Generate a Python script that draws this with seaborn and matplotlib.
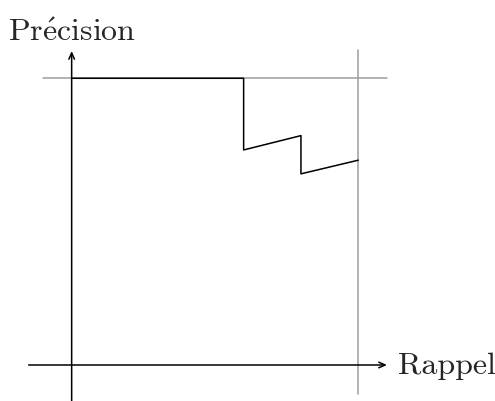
import numpy as np
import pandas as pd
import matplotlib
matplotlib.use("Agg")
import matplotlib.pyplot as plt
import seaborn as sns

# courbe precision / rappel
rappel = [0.0, 0.6, 0.6, 0.8, 0.8, 1.0]
precision = [1.0, 1.0, 0.75, 0.8, 2 / 3, 5 / 7]
label_x = "Rappel"
label_y = r"$\mathrm{Pr\acute{e}cision}$"

sns.set_style("white")
plt.rcParams["mathtext.fontset"] = "cm"

fig = plt.figure(figsize=(4.95, 4.01), dpi=100)
ax = fig.add_axes([0, 0, 1, 1])
ax.set_xlim(-0.250, 1.477)
ax.set_ylim(-0.1256, 1.273)
ax.axis("off")

# lignes grises a precision = 1 et rappel = 1
ax.plot([-0.1, 1.1], [1, 1], color="0.62", lw=1.1, zorder=1)
ax.plot([1, 1], [-0.1, 1.1], color="0.62", lw=1.1, zorder=1)

# axes avec fleches
arrow = dict(arrowstyle="->,head_length=0.45,head_width=0.2", color="black",
             lw=1.1, shrinkA=0, shrinkB=0)
ax.annotate("", xy=(1.10, 0), xytext=(-0.15, 0), arrowprops=arrow)
ax.annotate("", xy=(0, 1.095), xytext=(0, -0.15), arrowprops=arrow)

df = pd.DataFrame({"rappel": rappel, "precision": precision})
sns.lineplot(data=df, x="rappel", y="precision", sort=False, estimator=None,
             color="black", lw=1.1, ax=ax, zorder=3)
ax.axis("off")

ax.text(1.137, -0.005, label_x, fontsize=23, family="cmr10", va="center", ha="left")
ax.text(0.002, 1.13, label_y, fontsize=23, va="baseline", ha="center")

fig.savefig("out.png", dpi=100)
